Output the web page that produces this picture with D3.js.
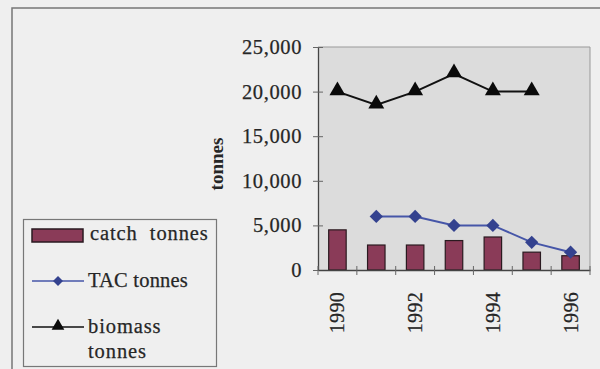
<!DOCTYPE html>
<html><head><meta charset="utf-8">
<script src="https://cdn.jsdelivr.net/npm/d3@7"></script>
<style>
html,body{margin:0;padding:0;background:#efefef;}
svg{display:block;}
svg text{font-family:"Liberation Serif","DejaVu Serif",serif !important;fill:#262626;}
</style></head>
<body>
<svg id="c" width="600" height="369" font-family="Liberation Serif, serif"></svg>
<script>
const years = [1990, 1991, 1992, 1993, 1994, 1995, 1996];
const catchTonnes = [4500, 2800, 2800, 3300, 3700, 2000, 1600];
const tacTonnes = [null, 6000, 6000, 5000, 5000, 3100, 2000];
const biomassTonnes = [20000, 18500, 20000, 22000, 20000, 20000, null];
const yTicks = [0, 5000, 10000, 15000, 20000, 25000];
const xTickLabels = [1990, 1992, 1994, 1996];
const legendLabels = ["catch  tonnes", "TAC tonnes", "biomass", "tonnes"];

const svg = d3.select("#c");
const L = 318, R = 590, T = 47, B = 270;

// outer frame
svg.append("path").attr("d", "M12,369V8H600").attr("fill", "none").attr("stroke", "#777").attr("stroke-width", 1.5);

const x = d3.scaleBand().domain(years).range([L, R]).padding(0);
const y = d3.scaleLinear().domain([0, 25000]).range([B, T]);

// plot area
svg.append("rect").attr("x", L).attr("y", T).attr("width", R - L).attr("height", B - T)
  .attr("fill", "#dcdcdc");
svg.append("path").attr("d", `M${L},${T}H${R}V${B}`).attr("fill", "none").attr("stroke", "#999").attr("stroke-width", 1);

// bars
const bw = x.bandwidth() * 0.45;
svg.append("g").selectAll("rect").data(years).join("rect")
  .attr("x", d => x(d) + x.bandwidth() / 2 - bw / 2)
  .attr("y", (d, i) => y(catchTonnes[i]))
  .attr("width", bw)
  .attr("height", (d, i) => B - y(catchTonnes[i]))
  .attr("fill", "#8a3b58").attr("stroke", "#2a1a20").attr("stroke-width", 1.2);

// y axis
const yAxis = d3.axisLeft(y).tickValues(yTicks).tickSize(0).tickPadding(16)
  .tickFormat(d3.format(","));
const gy = svg.append("g").attr("transform", `translate(${L},0)`).call(yAxis).attr("font-family", null);
gy.select(".domain").attr("stroke", "#444").attr("stroke-width", 1.3);
gy.selectAll(".tick text").attr("font-size", 20.5).attr("letter-spacing", 0.6)
  .attr("stroke", "#262626").attr("stroke-width", 0.25);
gy.selectAll(".tick").append("line").attr("x1", -5).attr("x2", 5).attr("stroke", "#666");

// x axis
const xAxis = d3.axisBottom(x).tickSize(0).tickFormat("");
const gx = svg.append("g").attr("transform", `translate(0,${B})`).call(xAxis).attr("font-family", null);
gx.select(".domain").attr("stroke", "#444").attr("stroke-width", 1.3);
gx.selectAll(".tick").remove();
const bounds = years.map(d => x(d)).concat([R]);
gx.selectAll("line.b").data(bounds).join("line").attr("class", "b")
  .attr("x1", d => d).attr("x2", d => d).attr("y1", -4).attr("y2", 5).attr("stroke", "#666");
gx.selectAll("text.yl").data(xTickLabels).join("text").attr("class", "yl")
  .attr("transform", d => `translate(${x(d) + x.bandwidth() / 2 + 7},22) rotate(-90)`)
  .attr("text-anchor", "end").attr("font-size", 20).attr("letter-spacing", 0.3)
  .attr("stroke", "#262626").attr("stroke-width", 0.25)
  .text(d => d);

// y title
svg.append("text").attr("transform", "translate(223,164) rotate(-90)")
  .attr("text-anchor", "middle").attr("font-size", 19).attr("font-weight", "bold")
  .text("tonnes");

// TAC line
const tacPts = years.map((d, i) => ({ d, v: tacTonnes[i] })).filter(p => p.v != null);
const line = d3.line().x(p => x(p.d) + x.bandwidth() / 2).y(p => y(p.v));
svg.append("path").datum(tacPts).attr("d", line).attr("fill", "none").attr("stroke", "#4656a8").attr("stroke-width", 2);
const diamond = d3.symbol().type(d3.symbolSquare).size(88);
svg.append("g").selectAll("path").data(tacPts).join("path")
  .attr("transform", p => `translate(${x(p.d) + x.bandwidth() / 2},${y(p.v)}) rotate(45)`)
  .attr("d", diamond).attr("fill", "#34428f");

// biomass line
const bioPts = years.map((d, i) => ({ d, v: biomassTonnes[i] })).filter(p => p.v != null);
svg.append("path").datum(bioPts).attr("d", line).attr("fill", "none").attr("stroke", "#111").attr("stroke-width", 2);
const tri = d3.symbol().type(d3.symbolTriangle).size(110);
svg.append("g").selectAll("path").data(bioPts).join("path")
  .attr("transform", p => `translate(${x(p.d) + x.bandwidth() / 2},${y(p.v) - 1})`)
  .attr("d", tri).attr("fill", "#0a0a0a");

// legend
const lg = svg.append("g");
lg.append("rect").attr("x", 23.5).attr("y", 219.5).attr("width", 193).attr("height", 147)
  .attr("fill", "#efefef").attr("stroke", "#777").attr("stroke-width", 1.2);
lg.append("rect").attr("x", 32).attr("y", 229).attr("width", 51).attr("height", 13)
  .attr("fill", "#8a3b58").attr("stroke", "#2a1a20").attr("stroke-width", 1.5);
lg.append("line").attr("x1", 32).attr("x2", 84).attr("y1", 281).attr("y2", 281).attr("stroke", "#4656a8").attr("stroke-width", 1.5);
lg.append("path").attr("transform", "translate(58,281) rotate(45)").attr("d", d3.symbol().type(d3.symbolSquare).size(50)).attr("fill", "#34428f");
lg.append("line").attr("x1", 32).attr("x2", 84).attr("y1", 327).attr("y2", 327).attr("stroke", "#111").attr("stroke-width", 1.5);
lg.append("path").attr("transform", "translate(58,326)").attr("d", d3.symbol().type(d3.symbolTriangle).size(70)).attr("fill", "#0a0a0a");
const ly = [240, 287, 333, 358];
lg.selectAll("text").data(legendLabels).join("text")
  .attr("x", (d, i) => i === 0 ? 90 : 88).attr("y", (d, i) => ly[i])
  .attr("font-size", 20.5).attr("letter-spacing", (d, i) => i === 1 ? 0.2 : 0.9)
  .attr("stroke", "#262626").attr("stroke-width", 0.25)
  .attr("xml:space", "preserve").style("white-space", "pre")
  .text(d => d);
</script>
</body></html>
